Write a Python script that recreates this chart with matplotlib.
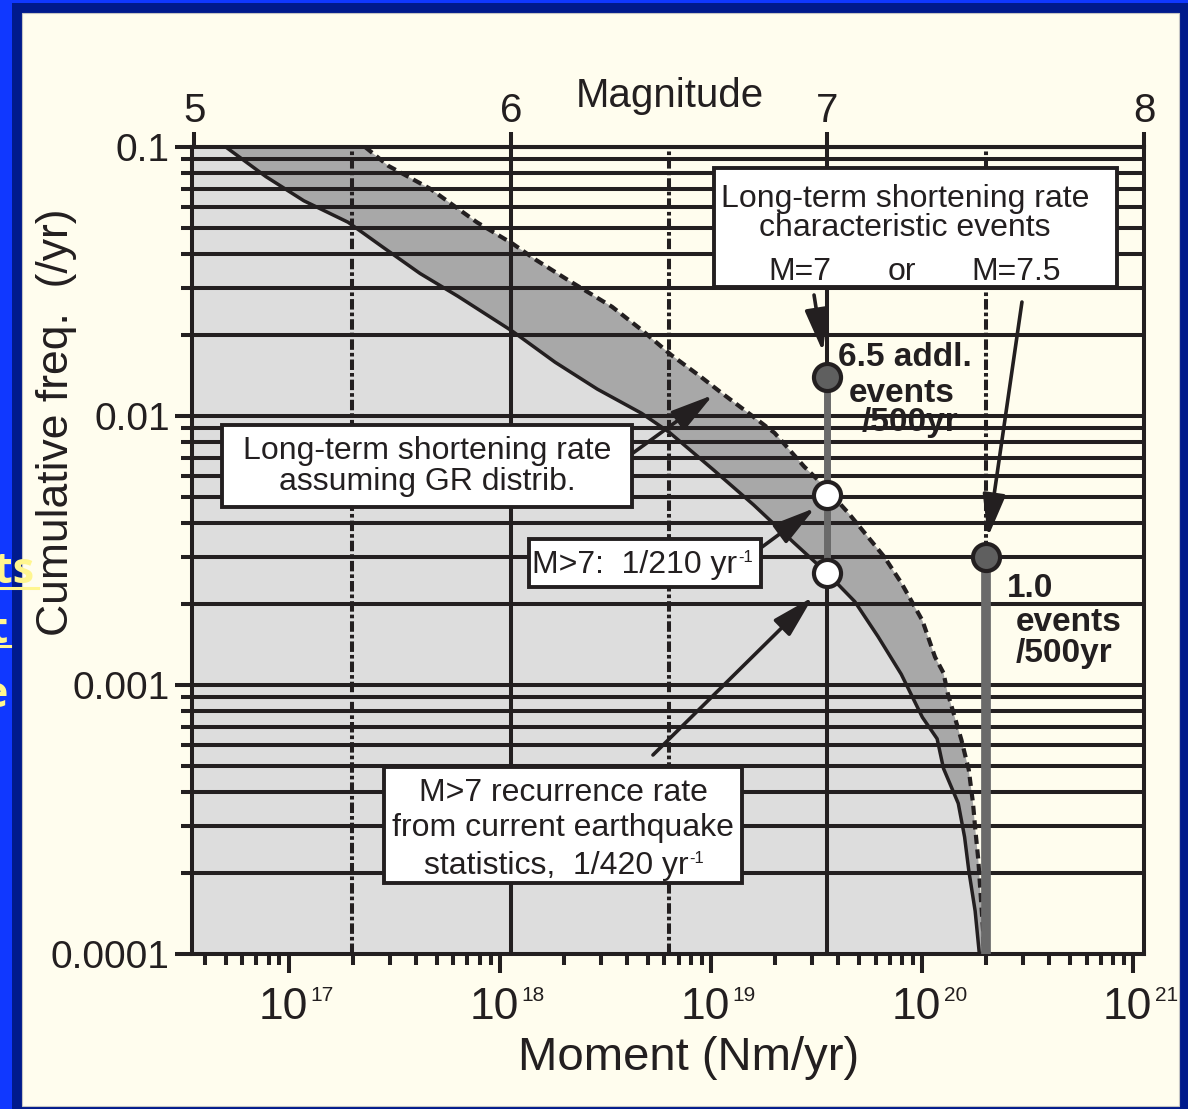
import numpy as np
import matplotlib
matplotlib.use("Agg")
import matplotlib.pyplot as plt
from matplotlib.patches import Rectangle
from matplotlib.lines import Line2D
from matplotlib.ticker import LogLocator, NullFormatter, NullLocator, FixedLocator

plt.rcParams['font.family'] = ['Liberation Sans', 'DejaVu Sans']
plt.rcParams['mathtext.fontset'] = 'custom'
plt.rcParams['mathtext.rm'] = 'Liberation Sans'

# ---------------- data ----------------
# cumulative frequency from current earthquake statistics (solid curve)
current_log_moment = [16.70, 16.89, 17.07, 17.28, 17.44, 17.62, 17.80, 18.06, 18.26, 18.46,
                      18.67, 18.80, 19.01, 19.20, 19.39, 19.55, 19.68, 19.79, 19.90, 20.00,
                      20.07, 20.10, 20.17, 20.20, 20.22, 20.25, 20.27]
current_log_freq = [-1.00, -1.11, -1.20, -1.28, -1.37, -1.47, -1.555, -1.686, -1.80, -1.90,
                    -1.99, -2.06, -2.20, -2.33, -2.47, -2.585, -2.69, -2.82, -2.96, -3.12,
                    -3.20, -3.31, -3.44, -3.565, -3.69, -3.84, -4.00]

# long-term shortening rate assuming GR distribution (dashed curve)
longterm_log_moment = [17.36, 17.47, 17.67, 17.89, 18.06, 18.17, 18.32, 18.53, 18.67, 18.81,
                       18.95, 19.05, 19.20, 19.30, 19.44, 19.52, 19.65, 19.82, 19.90, 20.00,
                       20.06, 20.10, 20.12, 20.185, 20.22, 20.24, 20.25, 20.265, 20.28, 20.29, 20.29]
longterm_log_freq = [-1.00, -1.07, -1.156, -1.28, -1.36, -1.42, -1.494, -1.594, -1.68, -1.773,
                     -1.854, -1.915, -2.003, -2.063, -2.188, -2.249, -2.361, -2.524, -2.62, -2.76,
                     -2.896, -2.955, -3.03, -3.204, -3.316, -3.44, -3.53, -3.65, -3.825, -3.94, -4.00]

# marked rates at M=7 and M=7.5
point_magnitude = [7.0, 7.0, 7.0, 7.5]
point_freq = [0.014, 0.0051, 0.0026, 0.003]
point_kind = ['char', 'open', 'open', 'char']

# gray bars (characteristic-event ranges)
bar_magnitude = [7.0, 7.5]
bar_top = [0.014, 0.003]
bar_bottom = [0.0026, 0.0001]

mag_ticks = [5, 6, 7, 8]
mag_solid_lines = [6, 7]
mag_dashdot_lines = [5.5, 6.5, 7.5]
y_ticks = [0.1, 0.01, 0.001, 0.0001]
y_tick_labels = ['0.1', '0.01', '0.001', '0.0001']
x_decades = [17, 18, 19, 20, 21]

MW_SLOPE = 1.5
MW_OFFSET = 9.05


def mag_to_moment(m):
    return 10.0 ** (MW_SLOPE * np.asarray(m, dtype=float) + MW_OFFSET)


def moment_to_mag(m0):
    m0 = np.asarray(m0, dtype=float)
    return (np.log10(np.clip(m0, 1e-300, None)) - MW_OFFSET) / MW_SLOPE


# ---------------- styles ----------------
INK = '#231f20'
CREAM = '#fffdee'
LIGHT = '#dddddd'
DARK = '#a8a8a8'
BAR = '#6a6a6a'
DOT_GRAY = '#5f5f5f'
YEL = '#fff68f'
LW = 2.9

W, H = 1188, 1109
fig = plt.figure(figsize=(W / 100, H / 100), dpi=100, facecolor='#1038ff')
fig.patches.append(Rectangle((12 / W, 0), 1 - 12 / W, 1 - 3 / H, transform=fig.transFigure,
                             facecolor='#001a8c', edgecolor='none', zorder=-2))
fig.patches.append(Rectangle((22 / W, 3 / H), (1179 - 22) / W, (1106 - 13) / H,
                             transform=fig.transFigure, facecolor=CREAM,
                             edgecolor='#c4c4c4', lw=0.8, zorder=-1))

ax = fig.add_axes([192 / W, 1 - 954 / H, (1144 - 192) / W, (954 - 147) / H])
ax.set_facecolor(CREAM)
ax.set_xscale('log')
ax.set_yscale('log')
xmin = 10 ** 16.54
xmax = float(mag_to_moment(8.0))
ax.set_xlim(xmin, xmax)
ax.set_ylim(1e-4, 0.1)

cx = 10.0 ** np.array(current_log_moment)
cy = 10.0 ** np.array(current_log_freq)
lx = 10.0 ** np.array(longterm_log_moment)
ly = 10.0 ** np.array(longterm_log_freq)

# fills
ax.fill(np.r_[xmin, cx, xmin], np.r_[cy[0], cy, cy[-1]], color=LIGHT, lw=0, zorder=1)
ax.fill(np.r_[cx, lx[::-1]], np.r_[cy, ly[::-1]], color=DARK, lw=0, zorder=1)

# grid
ax.yaxis.set_major_locator(FixedLocator(y_ticks))
ax.set_yticks(y_ticks, labels=y_tick_labels)
ax.yaxis.set_minor_locator(LogLocator(base=10, subs=np.arange(2, 10), numticks=100))
ax.yaxis.set_minor_formatter(NullFormatter())
ax.set_axisbelow('line')
ax.grid(True, which='both', axis='y', color=INK, lw=LW)
ax.grid(False, axis='x')

for m in mag_solid_lines:
    ax.axvline(float(mag_to_moment(m)), color=INK, lw=LW, zorder=1.5)
for m in mag_dashdot_lines:
    ax.axvline(float(mag_to_moment(m)), color=INK, lw=LW, zorder=1.5,
               linestyle=(0, (2.6, 0.75, 0.9, 0.75)))

# curves
ax.plot(cx, cy, color=INK, lw=2.5, zorder=2)
ax.plot(lx, ly, color=INK, lw=3.0, zorder=2, linestyle=(0, (2.2, 1.3)))

# gray bars
for m, t, b, w in zip(bar_magnitude, bar_top, bar_bottom, [5.0, 7.0]):
    x = float(mag_to_moment(m))
    ax.plot([x, x], [t, b], color=BAR, lw=w, solid_capstyle='butt', zorder=3)

# points
for m, f, k in zip(point_magnitude, point_freq, point_kind):
    ax.plot(float(mag_to_moment(m)), f, 'o', ms=19.5,
            mfc=DOT_GRAY if k == 'char' else 'white', mec=INK, mew=3.0, zorder=6)

# x ticks
ax.xaxis.set_major_locator(LogLocator(base=10, numticks=20))
ax.xaxis.set_minor_locator(LogLocator(base=10, subs=np.arange(2, 10), numticks=100))
ax.xaxis.set_major_formatter(NullFormatter())
ax.xaxis.set_minor_formatter(NullFormatter())
ax.tick_params(axis='x', which='major', direction='out', length=14, width=LW, colors=INK)
ax.tick_params(axis='x', which='minor', direction='out', length=8, width=LW, colors=INK)
ax.tick_params(axis='y', which='major', direction='out', length=12, width=LW, pad=4,
               labelsize=28, colors=INK)
ax.tick_params(axis='y', which='minor', direction='out', length=8, width=LW, colors=INK)
for sp in ax.spines.values():
    sp.set_linewidth(LW)
    sp.set_color(INK)

# decade labels 10^n with small exponent
for e in x_decades:
    ten = ax.annotate('10', xy=(10.0 ** e, 0), xycoords=ax.get_xaxis_transform(),
                      xytext=(-4.5, -24), textcoords='offset points', ha='center', va='top',
                      fontsize=32, color=INK, annotation_clip=False)
    ax.annotate(str(e), xy=(1, 1), xycoords=ten, xytext=(2, 1), textcoords='offset points',
                ha='left', va='top', fontsize=15, color=INK, annotation_clip=False)

# top magnitude axis
ax2 = ax.secondary_xaxis('top', functions=(moment_to_mag, mag_to_moment))
ax2.set_xticks(mag_ticks)
ax2.set_xticklabels([str(m) for m in mag_ticks])
ax2.xaxis.set_minor_locator(NullLocator())
ax2.tick_params(axis='x', which='major', direction='out', length=11, width=LW, pad=1.5,
                labelsize=29, colors=INK)
for sp in ax2.spines.values():
    sp.set_linewidth(LW)
    sp.set_color(INK)

# axis titles
fig.text(56.5 / W, 1 - 422 / H, 'Cumulative freq.  (/yr)', rotation=90, ha='center',
         va='center', fontsize=32, color=INK)
fig.text(689 / W, 1 - 1070 / H, 'Moment (Nm/yr)', ha='center', va='baseline',
         fontsize=34, color=INK)
fig.text(670 / W, 1 - 107 / H, 'Magnitude', ha='center', va='baseline', fontsize=29, color=INK)


# boxes
def box(x0, y0, x1, y1):
    ax.add_patch(Rectangle((x0, y0), x1 - x0, y1 - y0, transform=ax.transAxes,
                           facecolor='white', edgecolor=INK, lw=2.8, zorder=4, clip_on=False))


def btext(x, y, s, size=23, ha='center', weight='normal', z=4.5):
    return ax.text(x, y, s, transform=ax.transAxes, ha=ha, va='baseline', fontsize=size,
                   color=INK, fontweight=weight, zorder=z)


def sup(txt, s):
    ax.annotate(s, xy=(1, 1), xycoords=txt, xytext=(0.5, 0), textcoords='offset points',
                ha='left', va='top', fontsize=12, color=INK, zorder=4.6)


box(0.548, 0.827, 0.972, 0.974)
btext(0.749, 0.9257, 'Long-term shortening rate')
btext(0.749, 0.8897, 'characteristic events')
btext(0.6387, 0.8352, 'M=7')
btext(0.7458, 0.8352, 'or')
btext(0.8655, 0.8352, 'M=7.5')

box(0.0315, 0.5539, 0.4622, 0.6555)
btext(0.2468, 0.6134, 'Long-term shortening rate')
btext(0.2468, 0.5750, 'assuming GR distrib.')

box(0.354, 0.4548, 0.5977, 0.5143)
t3 = btext(0.4650, 0.4721, 'M>7:  1/210 yr')
sup(t3, '-1')

box(0.2017, 0.088, 0.5777, 0.2317)
btext(0.3897, 0.1896, 'M>7 recurrence rate')
btext(0.3897, 0.1462, 'from current earthquake')
t4 = btext(0.3830, 0.0991, 'statistics,  1/420 yr')
sup(t4, '-1')

# bold labels (drawn beneath the grid lines)
btext(0.6786, 0.7286, '6.5 addl.', size=24, ha='left', weight='bold', z=1.2)
btext(0.6901, 0.6840, 'events', size=24, ha='left', weight='bold', z=1.2)
btext(0.7038, 0.6481, '/500yr', size=24, ha='left', weight='bold', z=1.2)
btext(0.8561, 0.4424, '1.0', size=24, ha='left', weight='bold', z=1.2)
btext(0.8655, 0.4002, 'events', size=24, ha='left', weight='bold', z=1.2)
btext(0.8655, 0.3618, '/500yr', size=24, ha='left', weight='bold', z=1.2)

# arrows
arrow_kw = dict(arrowstyle='-|>,head_length=2.6,head_width=0.7', lw=2.6, color=INK,
                shrinkA=0, shrinkB=0, mutation_scale=10)
arrows = [((0.4632, 0.6208), (0.5473, 0.6927)),
          ((0.5987, 0.5043), (0.6544, 0.5527)),
          ((0.4842, 0.2466), (0.6523, 0.4424)),
          ((0.6534, 0.8166), (0.6628, 0.7460)),
          ((0.8718, 0.8079), (0.8361, 0.5167))]
for start, tip in arrows:
    ax.annotate('', xy=tip, xytext=start, xycoords='axes fraction',
                textcoords='axes fraction', arrowprops=arrow_kw, zorder=5)

# slide remnants on the left border (partly outside the slide, as in the reference)
for s, xr, yb in [('ts', 34, 583), ('rt', 9, 643), ('e', 8, 707)]:
    fig.text(xr / W, 1 - yb / H, s, ha='right', va='baseline', fontsize=31,
             fontweight='bold', color=YEL, family=['Open Sans', 'DejaVu Sans'], zorder=10)
fig.add_artist(Line2D([0, 38 / W], [1 - 588 / H] * 2, color=YEL, lw=2.2,
                      transform=fig.transFigure, zorder=10))
fig.add_artist(Line2D([0, 10 / W], [1 - 646 / H] * 2, color=YEL, lw=2.2,
                      transform=fig.transFigure, zorder=10))

fig.savefig('out.png', dpi=100, facecolor=fig.get_facecolor())
